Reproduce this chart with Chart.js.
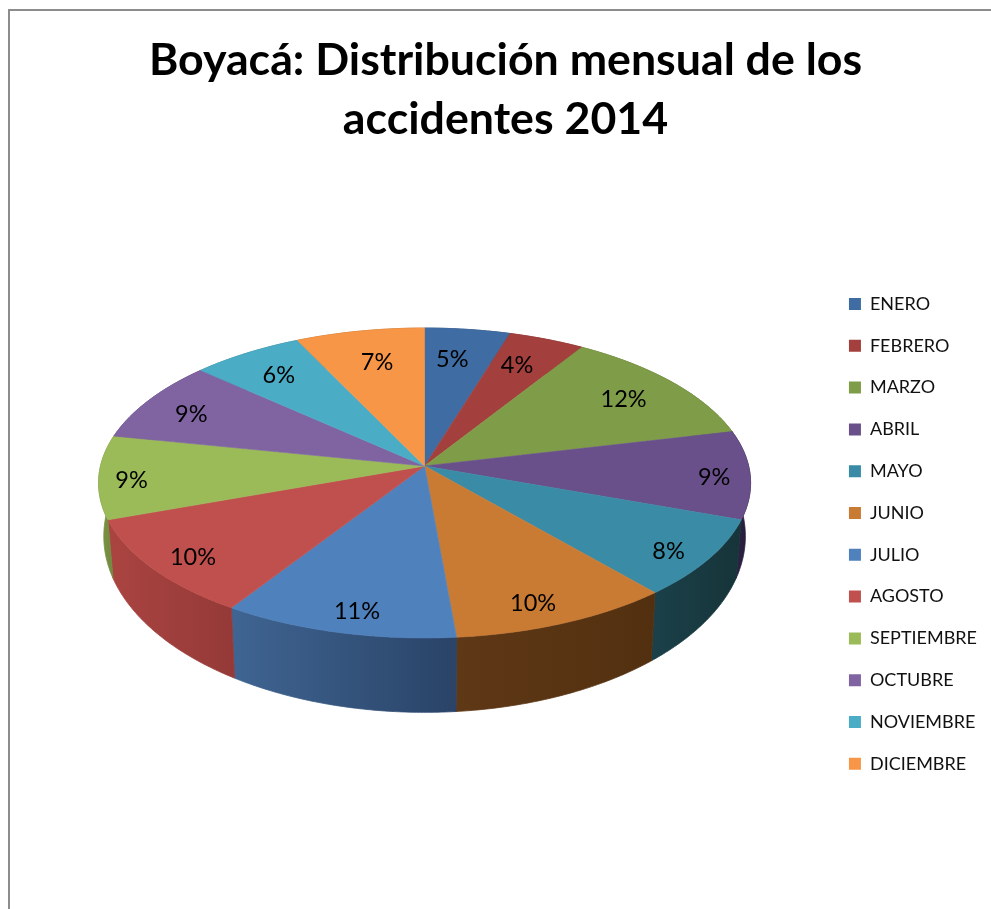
<!DOCTYPE html>
<html>
<head>
<meta charset="utf-8">
<title>Boyacá accidentes 2014</title>
<script src="https://cdn.jsdelivr.net/npm/chart.js@4/dist/chart.umd.js"></script>
<style>
  html, body { margin:0; padding:0; background:#fff; overflow:hidden; }
  #frame { position:absolute; left:8px; top:9px; right:0; bottom:0; border-left:2px solid #8c8c8c; border-top:2px solid #8c8c8c; }
  #chart-mes { position:absolute; left:0; top:0; }
</style>
</head>
<body>
<div id="frame"></div>
<canvas id="chart-mes" width="991" height="909"></canvas>
<script>
// Datos
const meses = ['ENERO','FEBRERO','MARZO','ABRIL','MAYO','JUNIO','JULIO','AGOSTO','SEPTIEMBRE','OCTUBRE','NOVIEMBRE','DICIEMBRE'];
const porcentajes = [4.7, 4.2, 12.4, 9.2, 8.2, 9.9, 10.5, 10.4, 8.7, 8.5, 6.2, 7.1];
const titulo = ['Boyacá: Distribución mensual de los', 'accidentes 2014'];

// Colores de la cara superior y del lateral (izq -> der)
const colores = ['#3F6CA3','#A33F3C','#7F9C48','#69508A','#3A8CA6','#C97B34','#4F81BD','#C0504D','#9BBB59','#8064A2','#4BACC6','#F79646'];
const ladoIzq = ['#2F507A','#7A2F2D','#5F7536','#2F2548','#1B4049','#5F3816','#3F6592','#AA4441','#7A9444','#5F4A78','#388093','#B8702F'];
const ladoDer = ['#2F507A','#7A2F2D','#5F7536','#241B38','#163439','#52300F','#2A4367','#953A38','#71893E','#5F4A78','#388093','#B8702F'];

// Colocacion de cada etiqueta dentro de su sector
const radioEtiqueta = [0.79, 0.80, 0.81, 0.89, 0.87, 0.85, 0.86, 0.86, 0.90, 0.84, 0.82, 0.78];
const fraccionEtiqueta = [0.40, 0.38, 0.47, 0.50, 0.52, 0.55, 0.47, 0.50, 0.50, 0.50, 0.53, 0.54];

// Perspectiva del disco
const PERSP = -0.1097, ESCALA_X = 0.994, ESCALA_Y = 0.4696;
const FONDO_X = 0.984, FONDO_Y = 1.136, GROSOR = 51;

function proyectar(arc, ang, r, abajo) {
  const t = ang + Math.PI / 2;              // 0 = arriba, sentido horario
  const u = Math.sin(t) * r, v = -Math.cos(t) * r;
  const k = 1 + PERSP * v;
  const R = arc.outerRadius;
  let x = R * ESCALA_X * u / k, y = R * ESCALA_Y * v / k;
  if (abajo) { x *= FONDO_X; y = y * FONDO_Y + GROSOR; }
  return { x: arc.x + x, y: arc.y + y };
}

function puntosBorde(arc, abajo) {
  const pts = [];
  const n = Math.max(2, Math.ceil((arc.endAngle - arc.startAngle) / 0.01));
  for (let i = 0; i <= n; i++) {
    pts.push(proyectar(arc, arc.startAngle + (arc.endAngle - arc.startAngle) * i / n, 1, abajo));
  }
  return pts;
}

const pie3d = {
  id: 'pie3d',
  beforeDatasetDraw(chart, args) {
    const ctx = chart.ctx;
    const arcs = args.meta.data;

    // Laterales
    arcs.forEach((arc, i) => {
      const arriba = puntosBorde(arc, false), abajo = puntosBorde(arc, true);
      const xs = arriba.map(p => p.x);
      const grad = ctx.createLinearGradient(Math.min(...xs), 0, Math.max(...xs), 0);
      grad.addColorStop(0, ladoIzq[i]);
      grad.addColorStop(1, ladoDer[i]);
      ctx.beginPath();
      arriba.forEach((p, j) => j ? ctx.lineTo(p.x, p.y) : ctx.moveTo(p.x, p.y));
      abajo.reverse().forEach(p => ctx.lineTo(p.x, p.y));
      ctx.closePath();
      ctx.fillStyle = grad;
      ctx.strokeStyle = grad;
      ctx.lineWidth = 0.8;
      ctx.fill();
      ctx.stroke();
    });

    // Caras superiores
    arcs.forEach((arc, i) => {
      ctx.beginPath();
      ctx.moveTo(arc.x, arc.y);
      puntosBorde(arc, false).forEach(p => ctx.lineTo(p.x, p.y));
      ctx.closePath();
      ctx.fillStyle = colores[i];
      ctx.strokeStyle = colores[i];
      ctx.lineWidth = 0.6;
      ctx.fill();
      ctx.stroke();
    });
    return false; // ya dibujado
  },
  afterDatasetsDraw(chart) {
    const ctx = chart.ctx;
    const arcs = chart.getDatasetMeta(0).data;
    ctx.save();
    ctx.font = '23.5px Lato';
    ctx.fillStyle = '#000';
    ctx.textAlign = 'center';
    ctx.textBaseline = 'middle';
    arcs.forEach((arc, i) => {
      const ang = arc.startAngle + (arc.endAngle - arc.startAngle) * fraccionEtiqueta[i];
      const p = proyectar(arc, ang, radioEtiqueta[i], false);
      ctx.fillText(Math.round(porcentajes[i]) + '%', p.x, p.y + 4);
    });
    ctx.restore();
  }
};

new Chart(document.getElementById('chart-mes').getContext('2d'), {
  type: 'pie',
  data: { labels: meses, datasets: [{ data: porcentajes, backgroundColor: colores, borderWidth: 0, radius: 326 }] },
  options: {
    responsive: false,
    animation: false,
    layout: { padding: { left: 24, right: 4, top: 31, bottom: 112.4 } },
    plugins: {
      tooltip: { enabled: false },
      title: {
        display: true,
        text: titulo,
        color: '#000',
        font: { family: 'Lato', size: 44.7, weight: 'bold', lineHeight: 1.32 },
        padding: { top: 0, bottom: -13.6 }
      },
      legend: {
        position: 'right',
        align: 'end',
        labels: { color: '#111', font: { family: 'Lato', size: 18 }, boxWidth: 12, boxHeight: 12, padding: 23.8 }
      }
    }
  },
  plugins: [pie3d]
});
</script>
</body>
</html>
